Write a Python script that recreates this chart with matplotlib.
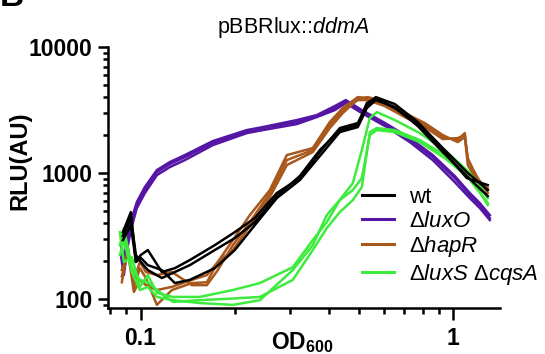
import matplotlib
matplotlib.use("Agg")
from matplotlib import pyplot as plt
from matplotlib.lines import Line2D
from matplotlib.ticker import NullFormatter

plt.rcParams['font.family'] = ['Liberation Sans', 'DejaVu Sans']
plt.rcParams['mathtext.fontset'] = 'custom'
plt.rcParams['mathtext.rm'] = 'Liberation Sans'
plt.rcParams['mathtext.it'] = 'Liberation Sans:italic'
plt.rcParams['mathtext.bf'] = 'Liberation Sans:bold'

# wt
wt_od = [0.0878, 0.0931, 0.0966, 0.1002, 0.1055, 0.1170, 0.1288, 0.1438, 0.1729, 0.2004, 0.2323, 0.2731,
         0.3236, 0.3750, 0.4346, 0.4964, 0.5304, 0.5667, 0.6521, 0.7725, 0.9290, 1.109, 1.294]
wt_rep1 = [340, 490, 197, 224, 245, 164, 176, 204, 268, 340, 440, 694, 913, 1468, 2276, 2494, 3465, 4011,
           3529, 2540, 1579, 1018, 733]
wt_rep2 = [294, 387, 197, 212, 186, 170, 134, 142, 176, 245, 387, 633, 880, 1364, 2115, 2318, 3280, 3796,
           3340, 2361, 1468, 947, 657]
wt_rep3 = [316, 440, 224, 197, 170, 147, 164, 186, 245, 305, 408, 657, 947, 1522, 2194, 2404, 3594, 3937,
           3280, 2448, 1522, 913, 803]

# luxO
luxo_od = [0.0865, 0.0884, 0.0911, 0.0938, 0.0973, 0.1032, 0.1128, 0.1241, 0.1386, 0.1704, 0.2190, 0.2464,
           0.3166, 0.3668, 0.4189, 0.4543, 0.5113, 0.6148, 0.7284, 0.8630, 1.0148, 1.1336, 1.2204, 1.3137]
luxo_rep1 = [322, 170, 294, 408, 557, 733, 1018, 1179, 1340, 1730, 2115, 2276, 2540, 2834, 3280, 3727, 3049,
             2404, 1828, 1340, 913, 669, 557, 440]
luxo_rep2 = [268, 197, 340, 440, 589, 774, 1056, 1223, 1389, 1795, 2194, 2318, 2634, 2886, 3402, 3796, 3162,
             2448, 1896, 1389, 947, 694, 578, 464]
luxo_rep3 = [224, 155, 268, 380, 528, 694, 964, 1116, 1268, 1668, 2077, 2194, 2448, 2783, 3162, 3594, 2994,
             2318, 1762, 1268, 848, 633, 528, 424]

# hapR
hapr_od = [0.0871, 0.0911, 0.0952, 0.0995, 0.1040, 0.1128, 0.1260, 0.1460, 0.1631, 0.1768, 0.1975, 0.2239,
           0.2594, 0.2940, 0.3561, 0.4037, 0.4443, 0.4964, 0.5343, 0.6058, 0.7020, 0.8133, 0.9290, 1.0375,
           1.0925, 1.1170, 1.2024, 1.2944]
hapr_rep1 = [136, 259, 125, 176, 147, 90, 118, 134, 136, 197, 294, 464, 733, 1389, 1579, 2540, 3280, 4011,
             3937, 3529, 2886, 2404, 1931, 1828, 2077, 1268, 913, 694]
hapr_rep2 = [170, 224, 142, 197, 164, 155, 164, 129, 129, 170, 268, 408, 694, 1268, 1522, 2404, 3162, 3796,
             3796, 3402, 2783, 2318, 1861, 1896, 2002, 1157, 848, 733]
hapr_rep3 = [152, 236, 114, 142, 129, 118, 125, 142, 155, 197, 245, 380, 645, 1157, 1468, 2276, 2994, 3867,
             4011, 3660, 2994, 2494, 2002, 1762, 1931, 1315, 880, 760]

# luxS cqsA
luxs_od = [0.0859, 0.0884, 0.0938, 0.0995, 0.1055, 0.1128, 0.1269, 0.1548, 0.1975, 0.2410, 0.3073, 0.3561,
           0.3948, 0.4346, 0.4784, 0.5113, 0.5423, 0.5710, 0.6521, 0.7839, 0.9427, 1.1088, 1.2024, 1.2944]
luxs_rep1 = [340, 197, 215, 125, 155, 112, 104, 104, 118, 134, 179, 294, 408, 611, 833, 1522, 2733, 3049,
             2634, 2077, 1522, 1056, 848, 633]
luxs_rep2 = [268, 366, 176, 142, 136, 118, 95, 98, 101, 104, 142, 245, 366, 490, 611, 774, 2115, 2276,
             2194, 1828, 1389, 964, 760, 557]
luxs_rep3 = [224, 294, 164, 118, 125, 104, 98, 93, 90, 98, 170, 268, 464, 611, 733, 913, 2002, 2194,
             2115, 1762, 1315, 947, 733, 578]

labels = ["wt", r"$\Delta luxO$", r"$\Delta hapR$", r"$\Delta luxS\ \Delta cqsA$"]
colors = ["#000000", "#5516a5", "#a8581c", "#3deb3d"]

x_major = [0.1, 1]
x_minor = [0.08, 0.09, 0.2, 0.3, 0.4, 0.5, 0.6, 0.7, 0.8, 0.9]
y_major = [100, 1000, 10000]
y_minor = [90, 200, 300, 400, 500, 600, 700, 800, 900,
           2000, 3000, 4000, 5000, 6000, 7000, 8000, 9000]

fig = plt.figure(figsize=(5.45, 3.54), dpi=100)
ax = fig.add_axes([0.198, 0.130, 0.719, 0.737])

lw = 1.8
for rep in [luxo_rep1, luxo_rep2, luxo_rep3]:
    ax.plot(luxo_od, rep, color=colors[1], lw=lw)
for rep in [hapr_rep1, hapr_rep2, hapr_rep3]:
    ax.plot(hapr_od, rep, color=colors[2], lw=lw)
for rep in [luxs_rep1, luxs_rep2, luxs_rep3]:
    ax.plot(luxs_od, rep, color=colors[3], lw=lw)
for rep in [wt_rep1, wt_rep2, wt_rep3]:
    ax.plot(wt_od, rep, color=colors[0], lw=lw)

ax.set_xscale('log')
ax.set_yscale('log')
ax.set_xlim(0.0786, 1.414)
ax.set_ylim(85, 10000)

ax.set_xticks(x_major)
ax.set_xticklabels(["0.1", "1"], fontsize=16.5, fontweight='bold')
ax.set_xticks(x_minor, minor=True)
ax.xaxis.set_minor_formatter(NullFormatter())
ax.set_yticks(y_major)
ax.set_yticklabels(["100", "1000", "10000"], fontsize=16.5, fontweight='bold')
ax.set_yticks(y_minor, minor=True)
ax.yaxis.set_minor_formatter(NullFormatter())

ax.tick_params(which='both', width=1.8, direction='out')
ax.tick_params(axis='x', which='major', length=8.6, pad=5)
ax.tick_params(axis='x', which='minor', length=4.3)
ax.tick_params(axis='y', which='major', length=7, pad=4)
ax.tick_params(axis='y', which='minor', length=3.5)

for s in ['top', 'right']:
    ax.spines[s].set_visible(False)
for s in ['left', 'bottom']:
    ax.spines[s].set_linewidth(1.8)

ax.set_xlabel(r"OD$_{\mathbf{600}}$", fontsize=16.5, fontweight='bold')
ax.xaxis.set_label_coords(0.497, -0.085)
ax.xaxis.label.set_va('top')
ax.set_ylabel("RLU(AU)", fontsize=17, fontweight='bold')
ax.yaxis.set_label_coords(-0.195, 0.565)

fig.text(0.538, 0.907, r"pBBRlux::$ddmA$", ha='center', va='baseline', fontsize=15.5)
fig.text(0.0, 0.983, "B", ha='left', va='baseline', fontsize=24, fontweight='bold')

handles = [Line2D([], [], color=c, lw=2.2) for c in colors]
fig.legend(handles, labels, loc='upper left', bbox_to_anchor=(0.664, 0.472),
           bbox_transform=fig.transFigure, frameon=False, fontsize=16,
           handlelength=1.45, handletextpad=0.65, labelspacing=0.12,
           borderpad=0, borderaxespad=0)

fig.savefig("out.png", dpi=100)
